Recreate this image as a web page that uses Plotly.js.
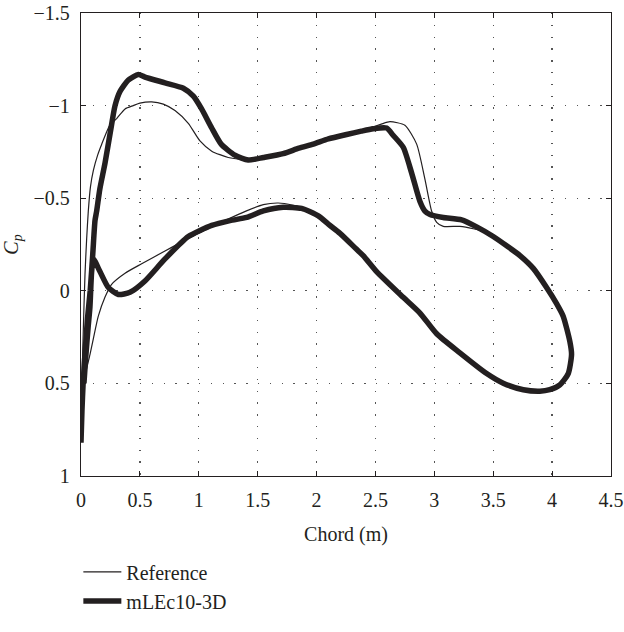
<!DOCTYPE html>
<html>
<head>
<meta charset="utf-8">
<script src="https://cdn.plot.ly/plotly-3.0.1.min.js"></script>
<style>html,body{margin:0;padding:0;background:#fff;}#chart{width:624px;height:632px;}</style>
</head>
<body>
<div id="chart"></div>
<script>
// Reference (thin line): chord position (m) and Cp
const refX = [0.005, 0.012, 0.02, 0.034, 0.048, 0.062, 0.08, 0.105, 0.14, 0.175, 0.246, 0.303, 0.374, 0.444, 0.5, 0.6, 0.699, 0.798, 0.911, 1.01, 1.11, 1.25, 1.364, 1.45, 1.55, 1.717, 1.85, 1.972, 2.1, 2.255, 2.38, 2.48, 2.55, 2.623, 2.75, 2.85, 2.92, 2.977, 3.02, 3.076, 3.217, 3.33, 3.444, 3.5, 3.62, 3.727, 3.84, 3.953, 4.038, 4.094, 4.151, 4.165, 4.137, 4.066, 3.98, 3.896, 3.755, 3.585, 3.444, 3.217, 3.02, 2.878, 2.736, 2.51, 2.396, 2.199, 2.015, 1.9, 1.802, 1.675, 1.548, 1.4, 1.222, 0.996, 0.713, 0.515, 0.374, 0.26, 0.204, 0.147, 0.105, 0.076, 0.034, 0.015];
const refCp = [0.65, 0.4, 0.2, -0.09, -0.28, -0.43, -0.56, -0.65, -0.73, -0.79, -0.896, -0.93, -0.982, -1.0, -1.013, -1.02, -1.008, -0.973, -0.904, -0.809, -0.754, -0.72, -0.71, -0.71, -0.722, -0.745, -0.775, -0.795, -0.822, -0.846, -0.866, -0.885, -0.9, -0.913, -0.894, -0.792, -0.603, -0.431, -0.37, -0.348, -0.348, -0.335, -0.314, -0.293, -0.24, -0.19, -0.121, -0.018, 0.069, 0.137, 0.275, 0.344, 0.447, 0.508, 0.534, 0.542, 0.534, 0.499, 0.447, 0.335, 0.232, 0.12, 0.035, -0.104, -0.19, -0.31, -0.405, -0.445, -0.462, -0.474, -0.465, -0.43, -0.379, -0.31, -0.215, -0.146, -0.095, -0.035, 0.034, 0.137, 0.258, 0.344, 0.46, 0.58];

// mLEc10-3D (thick line)
const mlX = [0, 0.008, 0.018, 0.034, 0.055, 0.078, 0.1, 0.119, 0.133, 0.16, 0.204, 0.25, 0.289, 0.331, 0.4, 0.487, 0.543, 0.713, 0.869, 0.954, 1.024, 1.11, 1.19, 1.307, 1.42, 1.55, 1.717, 1.85, 1.972, 2.1, 2.255, 2.38, 2.48, 2.595, 2.65, 2.736, 2.807, 2.878, 2.92, 2.963, 3.076, 3.232, 3.359, 3.5, 3.62, 3.727, 3.84, 3.953, 4.038, 4.094, 4.151, 4.165, 4.137, 4.066, 3.98, 3.896, 3.755, 3.585, 3.444, 3.217, 3.02, 2.878, 2.736, 2.51, 2.396, 2.34, 2.199, 2.1, 2.015, 1.873, 1.717, 1.548, 1.407, 1.265, 1.11, 0.911, 0.713, 0.543, 0.416, 0.317, 0.232, 0.161, 0.105, 0.09, 0.076, 0.06, 0.04, 0.025];
const mlCp = [0.82, 0.65, 0.5, 0.34, 0.15, 0.0, -0.2, -0.38, -0.43, -0.55, -0.69, -0.86, -1.0, -1.076, -1.137, -1.168, -1.154, -1.123, -1.094, -1.051, -0.982, -0.879, -0.792, -0.732, -0.706, -0.72, -0.741, -0.77, -0.792, -0.82, -0.844, -0.862, -0.875, -0.879, -0.84, -0.775, -0.637, -0.482, -0.43, -0.412, -0.396, -0.383, -0.345, -0.293, -0.24, -0.19, -0.121, -0.018, 0.069, 0.137, 0.275, 0.344, 0.447, 0.508, 0.534, 0.542, 0.534, 0.499, 0.447, 0.335, 0.232, 0.12, 0.035, -0.104, -0.19, -0.224, -0.31, -0.36, -0.405, -0.445, -0.451, -0.431, -0.396, -0.379, -0.353, -0.293, -0.172, -0.053, 0.008, 0.02, -0.018, -0.104, -0.172, -0.1, 0.086, 0.2, 0.36, 0.5];

const xTicks = [0, 0.5, 1, 1.5, 2, 2.5, 3, 3.5, 4, 4.5];
const yTicks = [-1.5, -1, -0.5, 0, 0.5, 1];

const ink = '#231f20';
const font = {family: 'Liberation Serif, Times New Roman, serif', size: 20, color: ink};

const traces = [
  {x: refX, y: refCp, type: 'scatter', mode: 'lines', name: 'Reference',
   line: {color: ink, width: 1.2, shape: 'spline', smoothing: 0.6}},
  {x: mlX, y: mlCp, type: 'scatter', mode: 'lines', name: 'mLEc10-3D',
   line: {color: ink, width: 5.5, shape: 'spline', smoothing: 0.6}}
];

const axisCommon = {
  showline: true, linecolor: ink, linewidth: 1.2, mirror: 'ticks',
  ticks: 'inside', ticklen: 5, tickcolor: ink, tickwidth: 1,
  showgrid: true, gridcolor: '#555', gridwidth: 1.3, griddash: '1.3px,10.5px',
  zeroline: false, tickfont: font, ticklabelstandoff: 6
};

const layout = {
  width: 624, height: 632,
  margin: {l: 81, r: 13, t: 13, b: 135},
  paper_bgcolor: '#fff', plot_bgcolor: '#fff',
  font: font,
  showlegend: true,
  legend: {x: -0.005, xanchor: 'left', y: -0.165, yanchor: 'top', orientation: 'v',
           font: font, bgcolor: 'rgba(0,0,0,0)', tracegroupgap: 0, itemwidth: 38},
  xaxis: Object.assign({}, axisCommon, {
    range: [0, 4.5], tickvals: xTicks, ticktext: xTicks.map(String),
    title: {text: 'Chord (m)', font: font, standoff: 16}
  }),
  yaxis: Object.assign({}, axisCommon, {
    range: [1, -1.5], tickvals: yTicks,
    ticktext: yTicks.map(v => (v < 0 ? '\u2212' + Math.abs(v) : String(v))),
    title: {text: '<i>C<sub>p</sub></i>', font: font, standoff: 10}
  })
};

Plotly.newPlot('chart', traces, layout, {displayModeBar: false, staticPlot: true});
</script>
</body>
</html>
